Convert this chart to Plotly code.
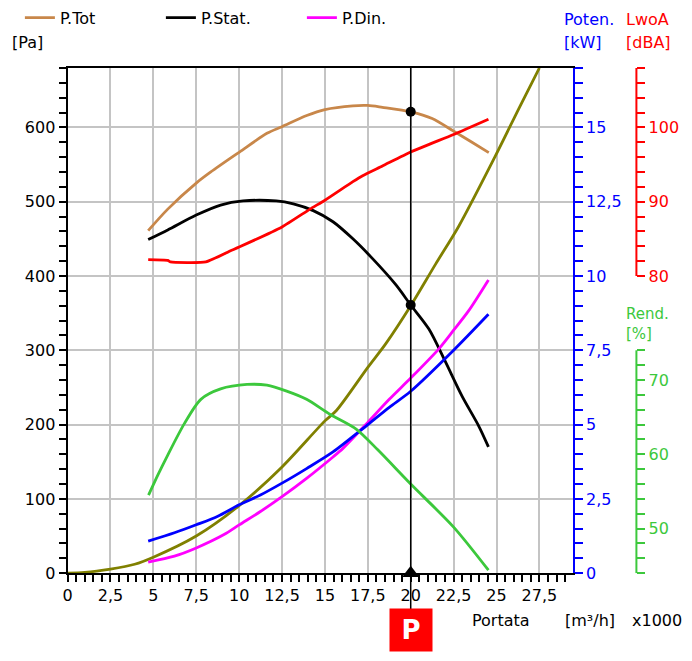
import plotly.graph_objects as go

W, H = 692, 661

# ---------------- data (flow in m3/h x1000) ----------------
tot_x = [4.7, 5.84, 7.5, 8.35, 10.0, 11.62, 12.5, 13.94, 15.0, 16.63, 17.5, 18.35, 20.0, 21.25, 22.5, 23.57, 24.55]
tot_y = [461, 490, 525, 540, 566.5, 592, 601, 616, 624, 629, 629.5, 627, 621, 612, 595, 580, 566]

stat_x = [4.7, 5.84, 7.5, 8.92, 10.23, 12.16, 13.16, 14.32, 15.47, 16.63, 17.79, 19.14, 20.0, 21.06, 22.02, 22.99, 23.95, 24.53]
stat_y = [449, 462, 482, 495.5, 501, 501, 497, 488, 473, 450, 423, 388, 361, 328.6, 284.6, 238.3, 198.7, 170]

din_x = [4.7, 6.23, 7.5, 9.12, 10.0, 11.24, 12.5, 13.93, 15.47, 16.05, 17.5, 18.75, 20.0, 21.64, 22.5, 23.37, 24.53]
din_y = [15, 23, 34, 52, 65, 83, 103, 127.6, 156.4, 168, 203, 234, 262.6, 302, 327, 353, 394.7]

pow_x = [4.7, 6.23, 7.5, 8.73, 10.0, 11.24, 12.5, 13.93, 15.47, 17.5, 18.75, 20.0, 22.5, 24.53]
pow_y = [1.08, 1.36, 1.63, 1.91, 2.30, 2.63, 3.03, 3.52, 4.08, 5.0, 5.58, 6.12, 7.5, 8.71]

lw_x = [4.7, 5.84, 6.0, 8.06, 9.5, 10.0, 12.5, 14.13, 15.0, 16.63, 17.2, 18.35, 20.0, 22.5, 24.53]
lw_y = [82.2, 82.1, 81.9, 81.9, 83.4, 83.9, 86.6, 89.0, 90.2, 92.7, 93.5, 94.8, 96.7, 99.05, 101.1]

eff_x = [4.72, 5.26, 5.84, 6.8, 7.77, 8.92, 10.46, 11.62, 12.77, 13.93, 15.28, 16.82, 18.08, 20.0, 22.5, 24.53]
eff_y = [54.5, 57.2, 59.9, 64.1, 67.4, 68.8, 69.4, 69.3, 68.5, 67.4, 65.4, 63.4, 60.6, 56.0, 50.2, 44.4]

sys_x = [0, 1, 2.5, 3.91, 5, 7.5, 10, 12.5, 15, 15.67, 17.5, 18.55, 20, 21.45, 22.8, 24.9, 26.36, 27.5]
sys_y = [0, 1, 5.5, 12, 21.5, 50, 91, 143, 205, 219, 277, 309, 360, 416, 467, 560, 628, 680]

OP_FLOW = 20.0

x_ticks = [0, 2.5, 5, 7.5, 10, 12.5, 15, 17.5, 20, 22.5, 25, 27.5]
x_ticktext = ["0", "2,5", "5", "7,5", "10", "12,5", "15", "17,5", "20", "22,5", "25", "27,5"]
pa_ticks = [0, 100, 200, 300, 400, 500, 600]
kw_ticks = [0, 2.5, 5, 7.5, 10, 12.5, 15]
kw_ticktext = ["0", "2,5", "5", "7,5", "10", "12,5", "15"]
db_ticks = [80, 90, 100]
eff_ticks = [50, 60, 70]

# ---------------- styling ----------------
FONT = "DejaVu Sans"
FS = 16
GRID = "#c4c4c4"
C_TOT = "#c8874a"
C_STAT = "#000000"
C_DIN = "#ff00ff"
C_POW = "#0000ff"
C_LW = "#ff0000"
C_EFF = "#3cc83c"
C_SYS = "#808000"

X0, X1, Y0, Y1 = 63, 572, 69, 582  # plot area in pixels
AX_R = 636  # secondary axes position (px)


def px(X):
    return X / W


def py(Y):
    return 1 - Y / H


fig = go.Figure()

LW = 2.8


def line(color, smooth=0.8):
    return dict(color=color, width=LW, shape="spline", smoothing=smooth)


fig.add_trace(go.Scatter(x=sys_x, y=sys_y, mode="lines", line=line(C_SYS), showlegend=False))
fig.add_trace(go.Scatter(x=eff_x, y=eff_y, yaxis="y4", mode="lines", line=line(C_EFF), showlegend=False))
fig.add_trace(go.Scatter(x=pow_x, y=pow_y, yaxis="y2", mode="lines", line=line(C_POW), showlegend=False))
fig.add_trace(go.Scatter(x=lw_x, y=lw_y, yaxis="y3", mode="lines", line=line(C_LW, 0.5), showlegend=False))
fig.add_trace(go.Scatter(x=tot_x, y=tot_y, mode="lines", name="P.Tot", line=line(C_TOT)))
fig.add_trace(go.Scatter(x=stat_x, y=stat_y, mode="lines", name="P.Stat.", line=line(C_STAT)))
fig.add_trace(go.Scatter(x=din_x, y=din_y, mode="lines", name="P.Din.", line=line(C_DIN)))

# operating point markers
op_tot = tot_y[tot_x.index(OP_FLOW)]
op_stat = stat_y[stat_x.index(OP_FLOW)]
fig.add_trace(go.Scatter(x=[OP_FLOW, OP_FLOW], y=[op_tot, op_stat], mode="markers",
                         marker=dict(color="black", size=10), showlegend=False))
fig.add_trace(go.Scatter(x=[OP_FLOW], y=[0], mode="markers", cliponaxis=False,
                         marker=dict(color="black", size=15, symbol="triangle-up"), showlegend=False))

tickfont = dict(family=FONT, size=FS, color="black")

fig.update_layout(
    width=W, height=H,
    margin=dict(l=0, r=0, t=0, b=0),
    paper_bgcolor="white", plot_bgcolor="white",
    font=dict(family=FONT, size=FS, color="black"),
    xaxis=dict(
        domain=[px(X0), px(X1)], range=[0, 29.45],
        tickvals=x_ticks, ticktext=x_ticktext, ticks="outside", ticklen=7, tickwidth=1.5, tickcolor="black",
        showgrid=True, gridcolor=GRID, gridwidth=1.5, zeroline=False,
        showline=True, linecolor="black", linewidth=2, mirror=True,
        tickfont=tickfont,
        minor=dict(tickvals=[i * 0.5 for i in range(59) if i % 5 != 0], ticks="outside", ticklen=7,
                   tickwidth=1.5, tickcolor="black", showgrid=False),
    ),
    yaxis=dict(
        domain=[py(Y1), py(Y0)], range=[0, 680],
        tickvals=pa_ticks, ticks="outside", ticklen=7, tickwidth=1.5, tickcolor="black",
        showgrid=True, gridcolor=GRID, gridwidth=1.5, zeroline=False,
        showline=True, linecolor="black", linewidth=2,
        tickfont=tickfont,
        minor=dict(tickvals=[v for v in range(20, 681, 20) if v % 100 != 0], ticks="outside", ticklen=7,
                   tickwidth=1.5, tickcolor="black", showgrid=False),
    ),
    yaxis2=dict(
        overlaying="y", side="right", anchor="x", range=[0, 17],
        tickvals=kw_ticks, ticktext=kw_ticktext, ticks="outside", ticklen=8, tickwidth=1.5, tickcolor=C_POW,
        showgrid=False, zeroline=False, showline=True, linecolor=C_POW, linewidth=2,
        tickfont=dict(family=FONT, size=FS, color=C_POW),
        minor=dict(tickvals=[i * 0.5 for i in range(35) if i % 5 != 0], ticks="outside", ticklen=8,
                   tickwidth=1.5, tickcolor=C_POW, showgrid=False),
    ),
    yaxis3=dict(
        overlaying="y", side="right", anchor="free", position=px(AX_R), range=[40, 108],
        tickvals=db_ticks, ticks="outside", ticklen=8, tickwidth=1.5, tickcolor=C_LW,
        showgrid=False, zeroline=False, showline=False,
        tickfont=dict(family=FONT, size=FS, color=C_LW),
        minor=dict(tickvals=[v for v in range(82, 109, 2) if v % 10 != 0], ticks="outside", ticklen=8,
                   tickwidth=1.5, tickcolor=C_LW, showgrid=False),
    ),
    yaxis4=dict(
        overlaying="y", side="right", anchor="free", position=px(AX_R), range=[44, 112],
        tickvals=eff_ticks, ticks="outside", ticklen=8, tickwidth=1.5, tickcolor=C_EFF,
        showgrid=False, zeroline=False, showline=False,
        tickfont=dict(family=FONT, size=FS, color=C_EFF),
        minor=dict(tickvals=[v for v in range(44, 75, 2) if v % 10 != 0], ticks="outside", ticklen=8,
                   tickwidth=1.5, tickcolor=C_EFF, showgrid=False),
    ),
    legend=dict(orientation="h", x=px(15), xanchor="left", y=py(18), yanchor="middle",
                font=dict(family=FONT, size=FS, color="black"), entrywidth=96,
                bgcolor="rgba(0,0,0,0)", borderwidth=0),
    showlegend=True,
)

# partial axis lines for dBA and efficiency scales
fig.add_shape(type="line", xref="paper", yref="y3", x0=px(AX_R), x1=px(AX_R), y0=db_ticks[0], y1=108,
              line=dict(color=C_LW, width=2))
fig.add_shape(type="line", xref="paper", yref="y4", x0=px(AX_R), x1=px(AX_R), y0=44, y1=74,
              line=dict(color=C_EFF, width=2))

# operating point vertical line
fig.add_shape(type="line", xref="x", yref="paper", x0=OP_FLOW, x1=OP_FLOW, y0=py(621), y1=py(Y0),
              line=dict(color="black", width=1.5))


def ann(text, X, Y, color="black", size=FS, xanchor="left"):
    fig.add_annotation(text=text, x=px(X), y=py(Y), xref="paper", yref="paper", showarrow=False,
                       xanchor=xanchor, yanchor="middle", align="left",
                       font=dict(family=FONT, size=size, color=color))


ann("[Pa]", 5, 43)
ann("Poten.", 561, 20, C_POW)
ann("[kW]", 561, 43, C_POW)
ann("LwoA", 624, 20, C_LW)
ann("[dBA]", 624, 43, C_LW)
ann("Rend.<br>[%]", 624, 329, C_EFF, size=15)
ann("Portata", 468, 630)
ann("[m³/h]", 562, 630)
ann("x1000", 630, 630)

fig.add_annotation(text="<b>P</b>", x=OP_FLOW, xref="x", y=py(640), yref="paper", showarrow=False,
                   xanchor="center", yanchor="middle", width=42, height=42, bgcolor="#ff0000",
                   borderpad=0, font=dict(family=FONT, size=26, color="white"))

fig.write_html("out.html")
